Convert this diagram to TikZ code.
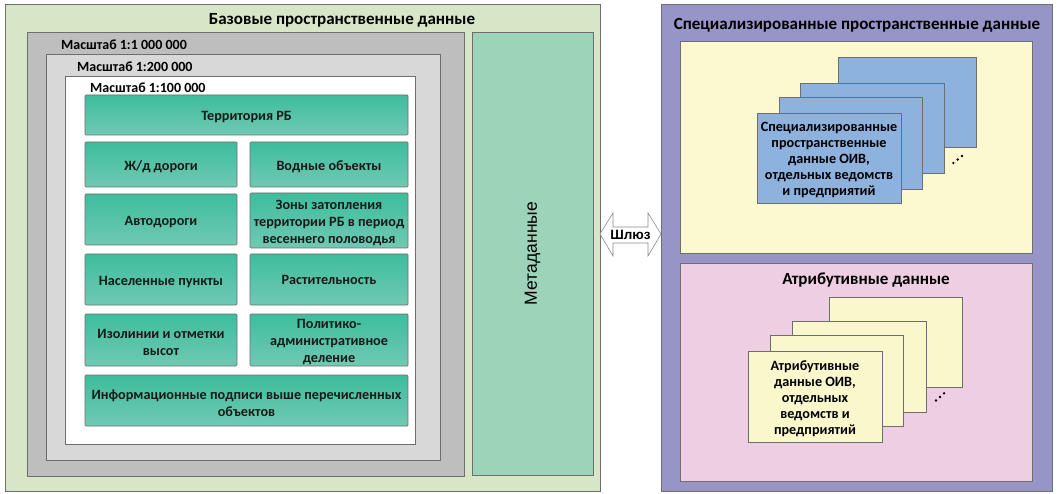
\documentclass[tikz,border=0pt]{standalone}
\usepackage{fontspec}
\setmainfont{Carlito}
\newfontfamily\arialfont{Liberation Sans}
\usetikzlibrary{fit}
\definecolor{outergreen}{HTML}{D6E6C6}
\definecolor{purplebg}{HTML}{9794C8}
\definecolor{yellowbg}{HTML}{FCF8D0}
\definecolor{pinkbg}{HTML}{EDCEE3}
\definecolor{bluecard}{HTML}{8EB2DE}
\definecolor{yellowcard}{HTML}{FBF7CD}
\definecolor{metagreen}{HTML}{9DD4B9}
\definecolor{grayA}{HTML}{BEBEBE}
\definecolor{grayB}{HTML}{D8D8D8}
\definecolor{edge}{HTML}{6E6E6E}
\definecolor{tealtop}{HTML}{3DBD9C}
\definecolor{tealbot}{HTML}{70C9B3}
\tikzset{
  area/.style={draw=edge, line width=0.8pt, inner sep=0pt},
  tealbox/.style={draw=edge, line width=0.7pt, inner sep=0pt, rounded corners=1pt,
    top color=tealtop, bottom color=tealbot},
  tealtext/.style={inner sep=0pt, align=center, yshift=-2.5pt,
    font=\bfseries\fontsize{14.2}{17}\selectfont, text=black!90},
  card/.style={draw=edge, line width=0.7pt, inner sep=0pt},
  cardtext/.style={inner sep=0pt, align=center, yshift=-2pt,
    font=\bfseries\fontsize{14.2}{16}\selectfont},
  scalelbl/.style={anchor=west, inner sep=0pt, font=\bfseries\fontsize{14}{16}\selectfont},
  titlelbl/.style={inner sep=0pt, font=\bfseries\fontsize{17}{20}\selectfont},
  dotmark/.style={fill=black, draw=none}
}
\begin{document}
\begin{tikzpicture}[x=1pt,y=-1pt]
\useasboundingbox[fill=white] (0,0) rectangle (1057,494);
% left big area
\node[area, fill=outergreen, fit={(5,4)(600,491)}] (base) {};
\node[titlelbl] (basetitle) at (342,20) {Базовые пространственные данные};
\node[area, fill=grayA, fit={(27,32)(464,476)}] (s1) {};
\node[scalelbl] (s1lbl) at (61,45) {Масштаб 1:1 000 000};
\node[area, fill=grayB, fit={(46,54)(440,460)}] (s2) {};
\node[scalelbl] (s2lbl) at (77,67) {Масштаб 1:200 000};
\node[area, fill=white, fit={(65,76)(415,444)}] (s3) {};
\node[scalelbl] (s3lbl) at (90,88) {Масштаб 1:100 000};
% teal boxes
\node[tealbox, fit={(85,95)(408,135)}] (terr) {};
\node[tealtext] (terrT) at (terr.center) {Территория РБ};
\node[tealbox, fit={(85,142)(237,187)}] (rail) {};
\node[tealtext] (railT) at (rail.center) {Ж/д дороги};
\node[tealbox, fit={(250,142)(408,187)}] (water) {};
\node[tealtext] (waterT) at (water.center) {Водные объекты};
\node[tealbox, fit={(85,194)(237,245)}] (roads) {};
\node[tealtext] (roadsT) at (roads.center) {Автодороги};
\node[tealbox, fit={(250,193)(408,248)}] (flood) {};
\node[tealtext] (floodT) at (flood.center) {Зоны затопления\\территории РБ в период\\весеннего половодья};
\node[tealbox, fit={(85,254)(237,305)}] (settl) {};
\node[tealtext] (settlT) at (settl.center) {Населенные пункты};
\node[tealbox, fit={(250,254)(408,305)}] (veg) {};
\node[tealtext] (vegT) at ([yshift=2pt]veg.center) {Растительность};
\node[tealbox, fit={(85,314)(237,366)}] (iso) {};
\node[tealtext] (isoT) at (iso.center) {Изолинии и отметки\\высот};
\node[tealbox, fit={(250,314)(408,366)}] (admin) {};
\node[tealtext] (adminT) at (admin.center) {Политико-\\административное\\деление};
\node[tealbox, fit={(85,375)(408,426)}] (info) {};
\node[tealtext] (infoT) at (info.center) {Информационные подписи выше перечисленных\\объектов};
% metadata
\node[area, line width=0.7pt, fill=metagreen, fit={(472,32)(593,475)}] (meta) {};
\node[rotate=90, inner sep=0pt, font=\arialfont\fontsize{17.5}{20}\selectfont] (metalbl) at (meta.center) {Метаданные};
% gateway arrow
\draw[draw=edge!80, fill=white, line width=0.6pt] (600,234) -- (613,213) -- (613,227) -- (648,227) -- (648,213)
  -- (661,234) -- (648,256) -- (648,243) -- (613,243) -- (613,256) -- cycle;
\node[inner sep=0pt, font=\arialfont\bfseries\fontsize{13.5}{15}\selectfont] (gw) at (630.5,234.5) {Шлюз};
% right area
\node[area, fill=purplebg, fit={(661,4)(1052,491)}] (spec) {};
\node[titlelbl] (spectitle) at (857,25) {Специализированные пространственные данные};
\node[area, fill=yellowbg, line width=0.7pt, fit={(680,41)(1032,253)}] (specin) {};
\node[area, fill=pinkbg, line width=0.7pt, fit={(680,263)(1032,481)}] (attr) {};
\node[titlelbl] (attrtitle) at (866,280) {Атрибутивные данные};
% blue cards
\node[card, fill=bluecard, fit={(838,57)(976,147)}] (b4) {};
\node[card, fill=bluecard, fit={(800,83)(944,173)}] (b3) {};
\node[card, fill=bluecard, fit={(779,97)(922,189)}] (b2) {};
\node[card, fill=bluecard, fit={(757,113)(901,203)}] (b1) {};
\node[cardtext] (b1T) at (b1.center) {Специализированные\\пространственные\\данные ОИВ,\\отдельных ведомств\\и предприятий};
\fill[dotmark] (953.3,163) circle (1.3) (957.7,159.5) circle (1.3) (962,156) circle (1.3);
% yellow cards
\node[card, fill=yellowcard, fit={(829,297)(962,387)}] (y4) {};
\node[card, fill=yellowcard, fit={(792,321)(926,412)}] (y3) {};
\node[card, fill=yellowcard, fit={(770,335)(903,426)}] (y2) {};
\node[card, fill=yellowcard, fit={(748,351)(882,442)}] (y1) {};
\node[cardtext] (y1T) at (y1.center) {Атрибутивные\\данные ОИВ,\\отдельных\\ведомств и\\предприятий};
\fill[dotmark] (936,400.5) circle (1.3) (940,397) circle (1.3) (944,393.3) circle (1.3);
\end{tikzpicture}
\end{document}
